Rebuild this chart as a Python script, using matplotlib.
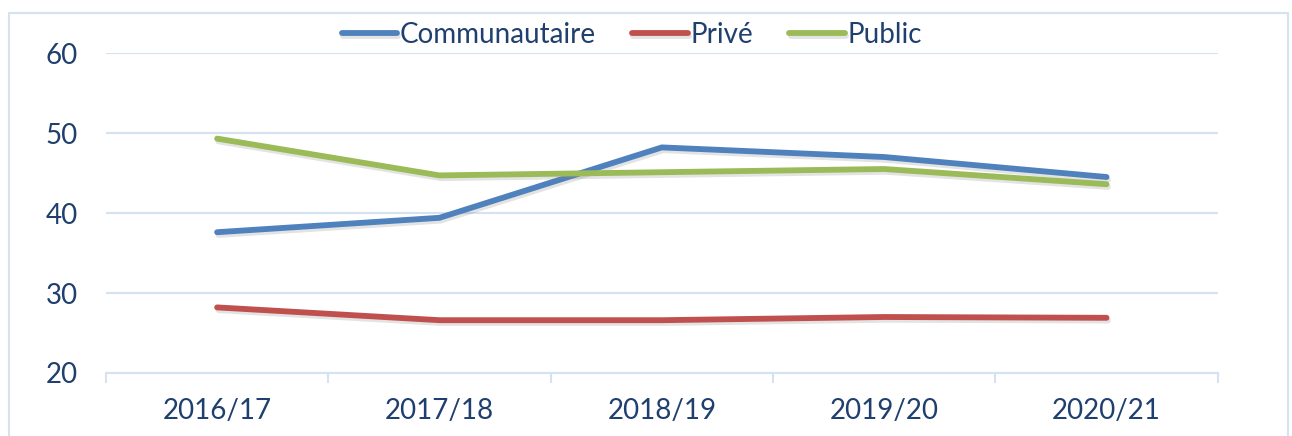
import matplotlib
matplotlib.use('Agg')
import matplotlib.pyplot as plt
import matplotlib.patheffects as pe
from matplotlib.patches import Rectangle

annees = ['2016/17', '2017/18', '2018/19', '2019/20', '2020/21']
communautaire = [37.6, 39.4, 48.2, 47.0, 44.5]
prive = [28.2, 26.6, 26.6, 27.0, 26.9]
public = [49.3, 44.7, 45.1, 45.5, 43.6]

plt.rcParams['font.family'] = ['Lato', 'DejaVu Sans']
texte = '#1F3F6E'
grille = '#D5E2F2'

fig = plt.figure(figsize=(12.92, 4.36), dpi=100)
ax = fig.add_axes([0.082, 0.1445, 0.8605, 0.7339])

# cadre du graphique
fig.patches.append(Rectangle((9 / 1292, -0.1), 1279 / 1292, 1.1 - 13 / 436,
                             transform=fig.transFigure, fill=False,
                             edgecolor=grille, linewidth=1.5))

x = range(len(annees))
ombre = [pe.SimpleLineShadow(offset=(1, -2), shadow_color='gray', alpha=0.22), pe.Normal()]
for vals, couleur, nom in [(communautaire, '#4F81BD', 'Communautaire'),
                           (prive, '#C0504D', 'Privé'),
                           (public, '#9BBB59', 'Public')]:
    ax.plot(x, vals, color=couleur, lw=4.2, solid_capstyle='round',
            solid_joinstyle='round', label=nom, path_effects=ombre)

ax.set_xlim(-0.5, 4.5)
ax.set_ylim(20, 60)
ax.set_yticks([20, 30, 40, 50, 60])
ax.set_xticks(list(x))
ax.set_xticklabels(annees)
ax.grid(axis='y', color=grille, lw=1.5)
ax.set_axisbelow(True)
for s in ['top', 'right', 'left']:
    ax.spines[s].set_visible(False)
ax.spines['bottom'].set_color(grille)
ax.spines['bottom'].set_linewidth(1.5)
ax.tick_params(axis='y', length=0, labelsize=20, labelcolor=texte, pad=20)
ax.tick_params(axis='x', length=0, labelsize=20, labelcolor=texte, pad=18)
ax.set_xticks([i - 0.5 for i in range(6)], minor=True)
ax.tick_params(axis='x', which='minor', length=7, color=grille, width=1.5)

leg = ax.legend(loc='center', bbox_to_anchor=(0.473, 1.056), ncol=3, frameon=False,
                fontsize=20, handlelength=2.0, handletextpad=0.1, columnspacing=1.3,
                labelcolor=texte, borderaxespad=0)

fig.savefig('out.png', dpi=100)
